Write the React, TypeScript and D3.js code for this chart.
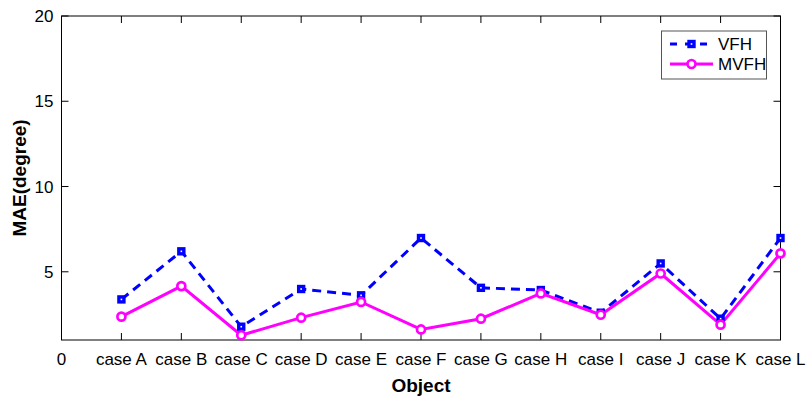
import React from "react";
import * as d3 from "d3";

const categories = ["case A", "case B", "case C", "case D", "case E", "case F", "case G", "case H", "case I", "case J", "case K", "case L"];
const vfh = [3.38, 6.2, 1.78, 3.99, 3.62, 6.98, 4.06, 3.93, 2.6, 5.49, 2.25, 6.98];
const mvfh = [2.37, 4.16, 1.28, 2.31, 3.23, 1.62, 2.25, 3.73, 2.48, 4.9, 1.9, 6.08];
const yTicks = [5, 10, 15, 20];
const xTickLabels = ["0", ...categories];

const W = 808, H = 396;
const L = 61.5, R = 780.5, T = 16, B = 340;
const FONT = "'Liberation Sans', Arial, Helvetica, sans-serif";
const BLUE = "#0000ff";
const MAG = "#ff00ff";

export default function App() {
  const x = d3.scaleLinear().domain([0, 12]).range([L, R]);
  const y = d3.scaleLinear().domain([1, 20]).range([B, T]);
  const line = d3.line<number>().x((_, i) => x(i + 1)).y((d) => y(d));
  const xt = d3.range(0, 13);
  const tl = 7;
  const sq = 5;
  return (
    <svg width={W} height={H} style={{ position: "absolute", left: 0, top: 0, background: "#fff" }} fontFamily={FONT}>
      <rect x={0} y={0} width={W} height={H} fill="#fff" />
      {xt.map((t) => (
        <g key={"x" + t}>
          <line x1={x(t)} x2={x(t)} y1={B} y2={B - tl} stroke="#000" strokeWidth={1} />
          <line x1={x(t)} x2={x(t)} y1={T} y2={T + tl} stroke="#000" strokeWidth={1} />
          <text x={x(t)} y={365} textAnchor="middle" fontSize={17} fill="#000">{xTickLabels[t]}</text>
        </g>
      ))}
      {yTicks.map((t) => (
        <g key={"y" + t}>
          <line x1={L} x2={L + tl} y1={y(t)} y2={y(t)} stroke="#000" strokeWidth={1} />
          <line x1={R} x2={R - tl} y1={y(t)} y2={y(t)} stroke="#000" strokeWidth={1} />
          <text x={53.5} y={y(t)} dy="0.36em" textAnchor="end" fontSize={17} fill="#000">{t}</text>
        </g>
      ))}
      <rect x={L} y={T} width={R - L} height={B - T} fill="none" stroke="#000" strokeWidth={1} />
      <path d={line(vfh) || ""} fill="none" stroke={BLUE} strokeWidth={3} strokeDasharray="9,6" />
      <path d={line(mvfh) || ""} fill="none" stroke={MAG} strokeWidth={3} />
      {vfh.map((v, i) => (
        <rect key={"s" + i} x={x(i + 1) - sq / 2} y={y(v) - sq / 2} width={sq} height={sq} fill="#fff" stroke={BLUE} strokeWidth={3.4} />
      ))}
      {mvfh.map((v, i) => (
        <circle key={"c" + i} cx={x(i + 1)} cy={y(v)} r={4} fill="#fff" stroke={MAG} strokeWidth={2.7} />
      ))}
      <rect x={661.5} y={31} width={105} height={48} fill="#fff" stroke="#555" strokeWidth={1} />
      <line x1={670} x2={713} y1={44} y2={44} stroke={BLUE} strokeWidth={3} strokeDasharray="7,8" />
      <rect x={691.5 - sq / 2} y={44 - sq / 2} width={sq} height={sq} fill="#fff" stroke={BLUE} strokeWidth={3.4} />
      <text x={718} y={44} dy="0.36em" fontSize={17} fill="#000">VFH</text>
      <line x1={670} x2={713} y1={64} y2={64} stroke={MAG} strokeWidth={3} />
      <circle cx={691.5} cy={64} r={4} fill="#fff" stroke={MAG} strokeWidth={2.7} />
      <text x={718} y={64} dy="0.36em" fontSize={17} fill="#000">MVFH</text>
      <text x={(L + R) / 2} y={391.5} textAnchor="middle" fontSize={19} fontWeight="bold" fill="#000">Object</text>
      <text transform={`translate(26,${(T + B) / 2}) rotate(-90)`} textAnchor="middle" fontSize={19} fontWeight="bold" fill="#000">MAE(degree)</text>
    </svg>
  );
}
